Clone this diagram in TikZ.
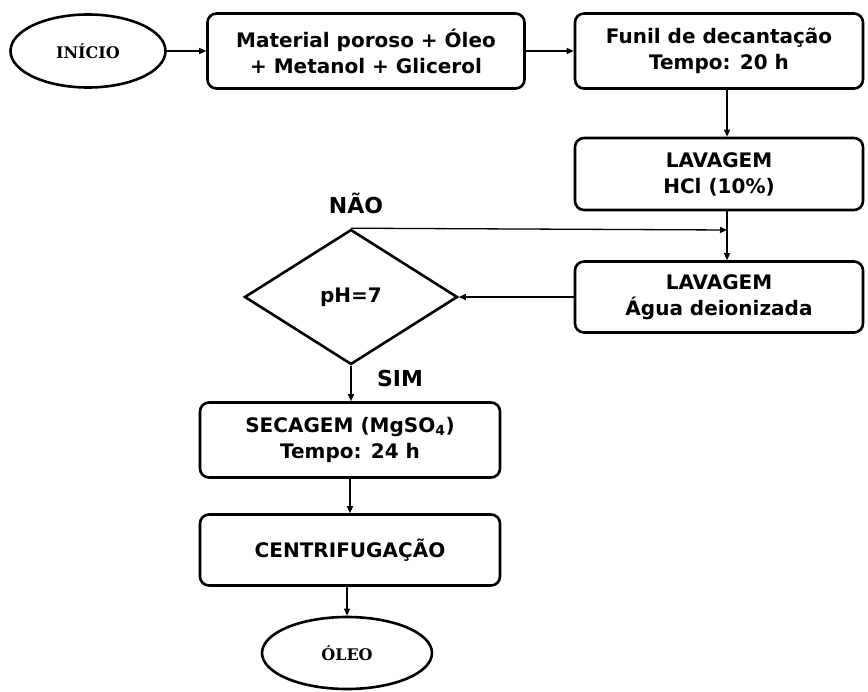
\documentclass[tikz,border=0pt]{standalone}
\usepackage{fontspec}
\setmainfont{DejaVu Sans}
\newfontfamily\termfont{DejaVu Serif}
\usetikzlibrary{shapes.geometric,arrows.meta}
\begin{document}
\begin{tikzpicture}[x=1pt,y=-1pt,
  box/.style={draw,line width=2.6pt,rounded corners=9pt,inner sep=0pt,align=center,font=\bfseries\fontsize{20}{26}\selectfont},
  term/.style={draw,ellipse,line width=2.6pt,inner sep=0pt,font=\termfont\bfseries\fontsize{16}{20}\selectfont},
  dec/.style={draw,diamond,line width=2.6pt,inner sep=0pt,font=\bfseries\fontsize{20}{22}\selectfont},
  conn/.style={line width=1.3pt,-{Triangle[length=7pt,width=6pt]}},
  lab/.style={font=\bfseries\fontsize{22}{24}\selectfont}]
\useasboundingbox (0,0) rectangle (868,692);
\node[term,minimum width=155pt,minimum height=73pt] (inicio) at (88,51) {INÍCIO};
\node[box,minimum width=317pt,minimum height=75pt] (b1) at (366,51) {Material poroso + Óleo\\+ Metanol + Glicerol};
\node[box,minimum width=288pt,minimum height=75pt] (b2) at (719,51) {Funil de decantação\\Tempo: 20 h};
\node[box,minimum width=288pt,minimum height=72pt] (b3) at (719,174) {LAVAGEM\\HCl (10\%)};
\node[box,minimum width=288pt,minimum height=71pt] (b4) at (719,297) {LAVAGEM\\Água deionizada};
\node[dec,minimum width=213pt,minimum height=135pt] (d) at (351,297) {pH=7};
\node[box,minimum width=300pt,minimum height=75pt] (b5) at (350,440) {SECAGEM (MgSO$_\mathbf{4}$)\\Tempo: 24 h};
\node[box,minimum width=300pt,minimum height=71pt] (b6) at (350,550) {CENTRIFUGAÇÃO};
\node[term,minimum width=170pt,minimum height=72pt] (oleo) at (347,653) {ÓLEO};
\node[lab] (nao) at (356,203) {NÃO};
\node[lab] (sim) at (400,378) {SIM};
\coordinate (j) at (727,230);
\draw[conn] (inicio.east) -- (b1.west);
\draw[conn] (b1.east) -- (b2.west);
\draw[conn] (b2.south -| j) -- (b3.north -| j);
\draw[conn] (b3.south -| j) -- (b4.north -| j);
\draw[conn] (d.north) -- (j);
\draw[conn] (b4.west) -- (d.east);
\draw[conn] (d.south) -- (b5.north -| d.south);
\draw[conn] (b5.south) -- (b6.north);
\draw[conn] (b6.south -| oleo.north) -- (oleo.north);
\end{tikzpicture}
\end{document}
